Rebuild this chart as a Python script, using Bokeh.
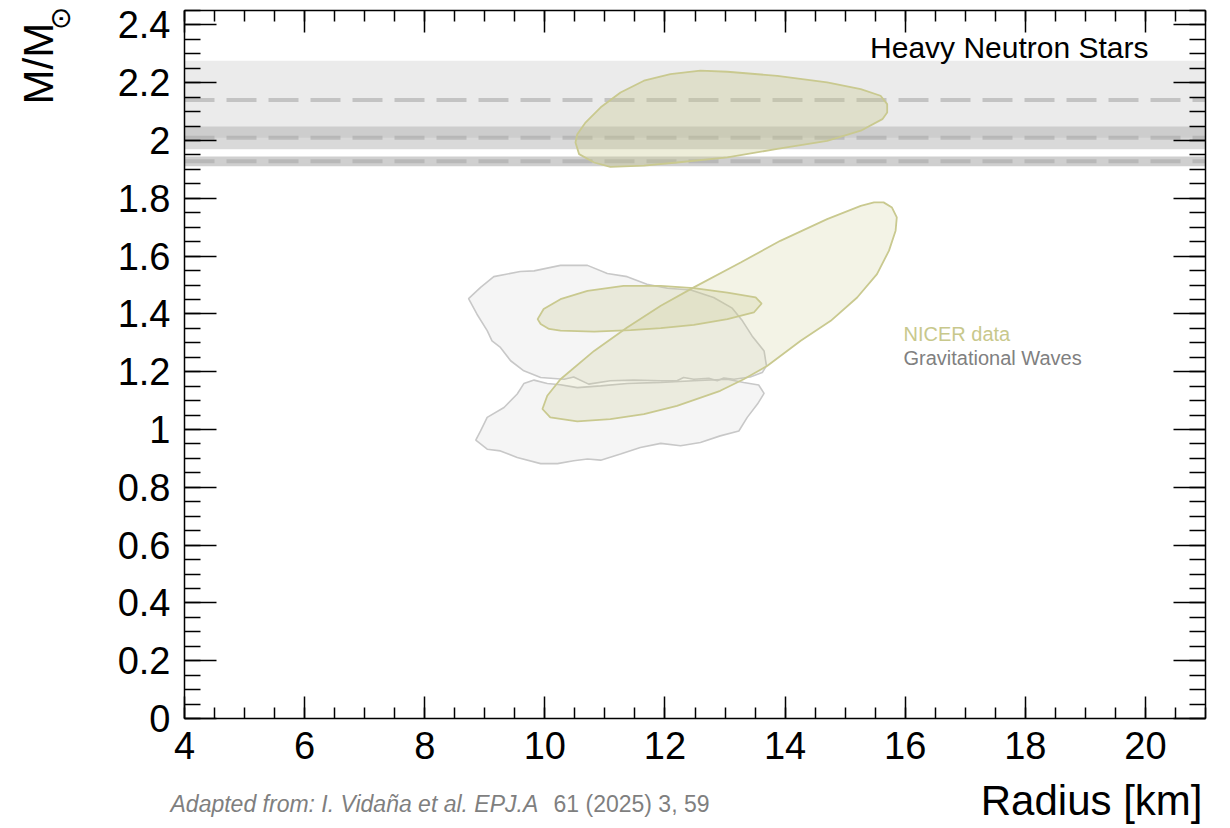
import numpy as np
from bokeh.plotting import figure
from bokeh.models import LinearAxis, FixedTicker, Label, Range1d, CustomJSTickFormatter
from bokeh.embed import file_html
from bokeh.resources import INLINE

# ---- axes ----
R_MIN, R_MAX = 4, 21
M_MIN, M_MAX = 0, 2.45
x_major_ticks = [4, 6, 8, 10, 12, 14, 16, 18, 20]
x_tick_labels = ["4", "6", "8", "10", "12", "14", "16", "18", "20"]
y_major_ticks = [0, 0.2, 0.4, 0.6, 0.8, 1.0, 1.2, 1.4, 1.6, 1.8, 2.0, 2.2, 2.4]
y_tick_labels = ["0", "0.2", "0.4", "0.6", "0.8", "1", "1.2", "1.4", "1.6", "1.8", "2", "2.2", "2.4"]

# ---- heavy pulsar mass measurements (M/Msun) ----
pulsar_mass = [2.14, 2.01, 1.928]
pulsar_low = [2.01, 1.97, 1.911]
pulsar_high = [2.276, 2.049, 1.945]

# ---- NICER contours (radius km, mass M/Msun) ----
nicer_top_r = [10.51, 10.57, 10.82, 11.09, 11.65, 12.20, 13.04, 13.87, 14.70, 15.26, 15.62, 15.70,
               15.70, 15.59, 15.26, 14.70, 13.87, 13.04, 12.59, 12.09, 11.65, 11.26, 10.93, 10.68, 10.54]
nicer_top_m = [1.993, 1.953, 1.924, 1.909, 1.913, 1.924, 1.942, 1.971, 1.999, 2.034, 2.074, 2.097,
               2.126, 2.155, 2.178, 2.201, 2.224, 2.238, 2.242, 2.230, 2.207, 2.166, 2.115, 2.063, 2.022]

nicer_big_r = [15.48, 15.64, 15.78, 15.86, 15.84, 15.73, 15.53, 15.20, 14.76, 14.26, 13.70, 13.31,
               12.92, 12.20, 11.65, 11.09, 10.54, 10.09, 9.96, 10.04, 10.26, 10.82, 11.37, 11.93,
               12.48, 13.26, 13.92, 14.70, 15.26]
nicer_big_m = [1.786, 1.786, 1.768, 1.734, 1.688, 1.619, 1.538, 1.457, 1.376, 1.307, 1.220, 1.174,
               1.134, 1.082, 1.053, 1.036, 1.028, 1.042, 1.071, 1.117, 1.174, 1.272, 1.353, 1.428,
               1.492, 1.578, 1.653, 1.728, 1.774]

nicer_small_r = [9.88, 9.98, 10.26, 10.71, 11.31, 11.93, 12.48, 13.04, 13.51, 13.61, 13.48, 13.04,
                 12.48, 11.93, 11.43, 10.82, 10.26, 10.07, 9.93]
nicer_small_m = [1.382, 1.417, 1.451, 1.480, 1.497, 1.497, 1.489, 1.474, 1.457, 1.436, 1.405, 1.382,
                 1.362, 1.351, 1.344, 1.339, 1.342, 1.348, 1.365]

# ---- gravitational-wave contours ----
gw_upper_r = [8.73, 8.93, 9.15, 9.59, 9.82, 10.26, 10.71, 11.04, 11.37, 11.70, 12.04, 12.43, 12.81,
              13.12, 13.29, 13.45, 13.65, 13.69, 13.62, 13.42, 13.15, 12.98, 12.87, 12.73, 12.48,
              12.31, 12.20, 11.93, 11.48, 11.09, 10.73, 10.48, 10.32, 9.93, 9.65, 9.43, 9.26, 9.12,
              9.04, 8.87]
gw_upper_m = [1.453, 1.492, 1.529, 1.547, 1.549, 1.568, 1.568, 1.540, 1.529, 1.503, 1.489, 1.483,
              1.457, 1.420, 1.376, 1.324, 1.272, 1.220, 1.197, 1.182, 1.174, 1.178, 1.169, 1.177,
              1.174, 1.180, 1.169, 1.169, 1.171, 1.169, 1.157, 1.182, 1.174, 1.180, 1.203, 1.238,
              1.284, 1.307, 1.342, 1.399]

gw_lower_r = [9.65, 9.82, 10.04, 10.26, 10.54, 10.93, 11.37, 11.93, 12.48, 13.04, 13.31, 13.56,
              13.65, 13.54, 13.37, 13.23, 12.92, 12.59, 12.26, 11.93, 11.59, 11.26, 10.93, 10.71,
              10.48, 10.21, 9.93, 9.54, 9.26, 9.04, 8.85, 8.93, 9.04, 9.32, 9.54]
gw_lower_m = [1.159, 1.171, 1.159, 1.155, 1.145, 1.151, 1.159, 1.163, 1.169, 1.174, 1.163, 1.154,
              1.125, 1.088, 1.042, 0.995, 0.978, 0.955, 0.944, 0.952, 0.938, 0.915, 0.894, 0.898,
              0.892, 0.882, 0.882, 0.903, 0.926, 0.932, 0.963, 0.995, 1.042, 1.076, 1.123]

FONT = "Liberation Sans"
NICER_COLOR = "#c8c88c"
GW_TEXT = "#808080"

# Canvas layout: the frame fills the whole canvas and the axes are pinned
# at the edges of the data box, so that titles outside the box can be drawn.
W, H = 1230, 828
BOX_L, BOX_R, BOX_T, BOX_B = 184, 1205, 10, 718
kx = (BOX_R - BOX_L) / (R_MAX - R_MIN)
ky = (BOX_B - BOX_T) / (M_MAX - M_MIN)
x_range = Range1d(R_MIN - BOX_L / kx, R_MAX + (W - BOX_R) / kx)
y_range = Range1d(M_MIN - (H - BOX_B) / ky, M_MAX + BOX_T / ky)

p = figure(width=W, height=H, output_backend="svg", toolbar_location=None,
           x_range=x_range, y_range=y_range,
           x_axis_location=None, y_axis_location=None, min_border=0)
p.xgrid.visible = False
p.ygrid.visible = False
p.outline_line_color = None
p.background_fill_color = "white"
p.border_fill_color = "white"

x_minor = list(np.arange(R_MIN, R_MAX + 0.01, 0.5))
y_minor = list(np.round(np.arange(M_MIN, M_MAX + 0.001, 0.05), 3))
xticker = FixedTicker(ticks=x_major_ticks, minor_ticks=x_minor)
yticker = FixedTicker(ticks=y_major_ticks, minor_ticks=y_minor)
blank = CustomJSTickFormatter(code="return ''")


def style_axis(ax, major_len, minor_len):
    ax.axis_line_color = "black"
    ax.axis_line_width = 1.5
    ax.major_tick_in = major_len
    ax.major_tick_out = 0
    ax.minor_tick_in = minor_len
    ax.minor_tick_out = 0
    ax.major_tick_line_width = 1.5
    ax.minor_tick_line_width = 1.5
    ax.major_tick_line_color = "black"
    ax.minor_tick_line_color = "black"


xb = LinearAxis(ticker=xticker, fixed_location=M_MIN, bounds=(R_MIN, R_MAX))
style_axis(xb, 22, 11)
xb.major_label_overrides = dict(zip(x_major_ticks, x_tick_labels))
xb.major_label_text_font = FONT
xb.major_label_text_font_size = "38px"
xb.major_label_text_color = "black"
xb.major_label_standoff = 13
p.add_layout(xb, "below")

xt = LinearAxis(ticker=xticker, formatter=blank, fixed_location=M_MAX, bounds=(R_MIN, R_MAX))
style_axis(xt, 22, 11)
xt.major_label_standoff = 0
xt.major_label_text_font_size = "1px"
p.add_layout(xt, "above")

yl = LinearAxis(ticker=yticker, fixed_location=R_MIN, bounds=(M_MIN, M_MAX))
style_axis(yl, 32, 16)
yl.major_label_overrides = dict(zip(y_major_ticks, y_tick_labels))
yl.major_label_text_font = FONT
yl.major_label_text_font_size = "38px"
yl.major_label_text_color = "black"
yl.major_label_standoff = 14
p.add_layout(yl, "left")

yr = LinearAxis(ticker=yticker, formatter=blank, fixed_location=R_MAX, bounds=(M_MIN, M_MAX))
style_axis(yr, 32, 16)
yr.major_label_standoff = 0
yr.major_label_text_font_size = "1px"
p.add_layout(yr, "right")

# heavy pulsar mass bands and central values
band_alpha = [0.21, 0.4, 0.5]
p.quad(left=R_MIN, right=R_MAX, bottom=pulsar_low, top=pulsar_high,
       fill_color="#a0a0a0", fill_alpha=band_alpha, line_alpha=0)
p.segment(x0=R_MIN, x1=R_MAX, y0=pulsar_mass, y1=pulsar_mass,
          line_color="#a8a8a8", line_alpha=0.6, line_width=4, line_dash="30 12")

# gravitational-wave credible regions
p.patches([gw_upper_r, gw_lower_r], [gw_upper_m, gw_lower_m],
          fill_color="#d9d9d9", fill_alpha=0.25, line_color="#c8c8c8", line_width=1.6)

# NICER credible regions
p.patches([nicer_top_r, nicer_big_r, nicer_small_r], [nicer_top_m, nicer_big_m, nicer_small_m],
          fill_color=NICER_COLOR, fill_alpha=[0.33, 0.22, 0.25],
          line_color="#c9c98f", line_width=1.8)


# text annotations in canvas pixels (x from the left edge, y from the top edge)
def lab(text, x, y, size, color="black", align="left", baseline="middle", angle=0.0,
        font=FONT, style="normal"):
    p.add_layout(Label(x=x, y=H - y, x_units="screen", y_units="screen", text=text,
                       text_font=font, text_font_size=size, text_color=color,
                       text_align=align, text_baseline=baseline, angle=angle,
                       text_font_style=style))


lab("Heavy Neutron Stars", 1148, 47, "30px", align="right")
lab("NICER data", 903, 333, "20px", color=NICER_COLOR)
lab("Gravitational Waves", 903, 357, "20px", color=GW_TEXT)
lab("M/M", 38, 104, "42px", angle=np.pi / 2)
lab("\u2299", 60, 18, "28px", align="center", angle=np.pi / 2, font="DejaVu Sans")
lab("Radius [km]", 1202, 800, "42px", align="right")
lab("Adapted from: I. Vida\u00f1a et al. EPJ.A", 170, 803, "23px", color="#7f7f7f",
    style="italic")
lab("61 (2025) 3, 59", 709, 803, "23px", color="#7f7f7f", align="right")

open("out.html", "w").write(file_html(p, INLINE))
